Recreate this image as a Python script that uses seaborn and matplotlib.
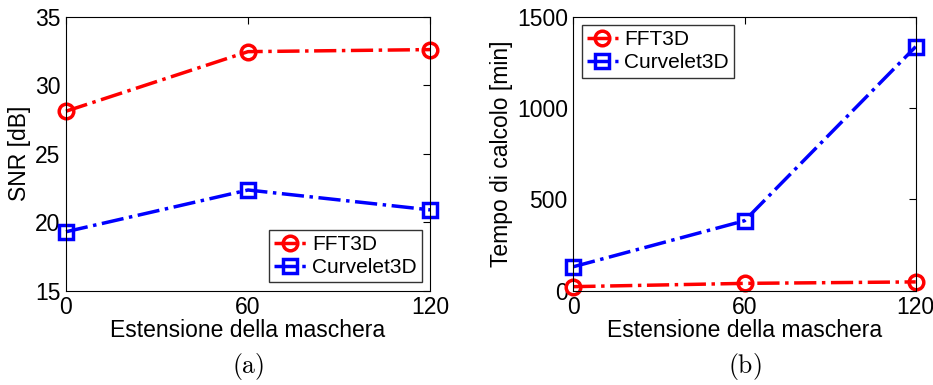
import numpy as np
import pandas as pd
import seaborn as sns
import matplotlib
matplotlib.use("Agg")
import matplotlib.pyplot as plt

mask_ext = [0, 60, 120]
snr_fft = [28.1, 32.45, 32.6]
snr_curv = [19.3, 22.35, 20.9]
time_fft = [22, 40, 48]
time_curv = [131, 383, 1336]
series = ["FFT3D", "Curvelet3D"]

sns.set_theme(style="white")
plt.rcParams['font.family'] = ['Liberation Sans', 'DejaVu Sans']
plt.rcParams['mathtext.fontset'] = 'cm'
plt.rcParams['text.color'] = 'black'
plt.rcParams['axes.labelcolor'] = 'black'

fig = plt.figure(figsize=(9.33, 3.85), dpi=100)
ax1 = fig.add_axes([0.0707, 0.245, 0.3903, 0.7116])
ax2 = fig.add_axes([0.6145, 0.245, 0.3670, 0.7116])

styles = {"FFT3D": dict(color="#ff0000", marker="o"),
          "Curvelet3D": dict(color="#0000ff", marker="s")}

def draw(ax, vals_fft, vals_curv, ylim, yticks, ylabel, legloc, letter):
    df = pd.DataFrame({
        "x": mask_ext * 2,
        "y": list(vals_fft) + list(vals_curv),
        "s": [series[0]] * 3 + [series[1]] * 3,
    })
    for name in series:
        sub = df[df.s == name]
        st = styles[name]
        sns.lineplot(data=sub, x="x", y="y", ax=ax, color=st["color"],
                     marker=st["marker"], markersize=10.5 if st["marker"] == "o" else 9.5,
                     markerfacecolor="none", markeredgecolor=st["color"],
                     markeredgewidth=2.5, linewidth=2.5, linestyle="-.",
                     label=name, clip_on=False)
    ax.set_xlim(0, 120)
    ax.set_ylim(*ylim)
    ax.set_xticks(mask_ext)
    ax.set_yticks(yticks)
    ax.tick_params(direction="in", length=5, width=0.8, top=True, right=True,
                   labelsize=16.5, colors="black", pad=4)
    ax.tick_params(axis="x", labeltop=False)
    ax.tick_params(axis="y", labelright=False)
    for sp in ax.spines.values():
        sp.set_color("black")
        sp.set_linewidth(0.8)
    ax.set_xlabel("Estensione della maschera", fontsize=16.5, labelpad=0)
    ax.set_ylabel(ylabel, fontsize=16.5, labelpad=3)
    leg = ax.legend(loc=legloc, fontsize=15, frameon=True, fancybox=False,
                    edgecolor="black", handlelength=1.5, borderpad=0.25,
                    labelspacing=0.2, handletextpad=0.3, borderaxespad=0.4)
    leg.get_frame().set_linewidth(1.0)
    ax.text(0.5, -0.275, r"$\mathrm{(" + letter + r")}$", transform=ax.transAxes,
            ha="center", va="center", fontsize=18.5)

draw(ax1, snr_fft, snr_curv, (15, 35), [15, 20, 25, 30, 35], "SNR [dB]",
     "lower right", "a")
draw(ax2, time_fft, time_curv, (0, 1500), [0, 500, 1000, 1500],
     "Tempo di calcolo [min]", "upper left", "b")

fig.savefig("out.png", dpi=100)
